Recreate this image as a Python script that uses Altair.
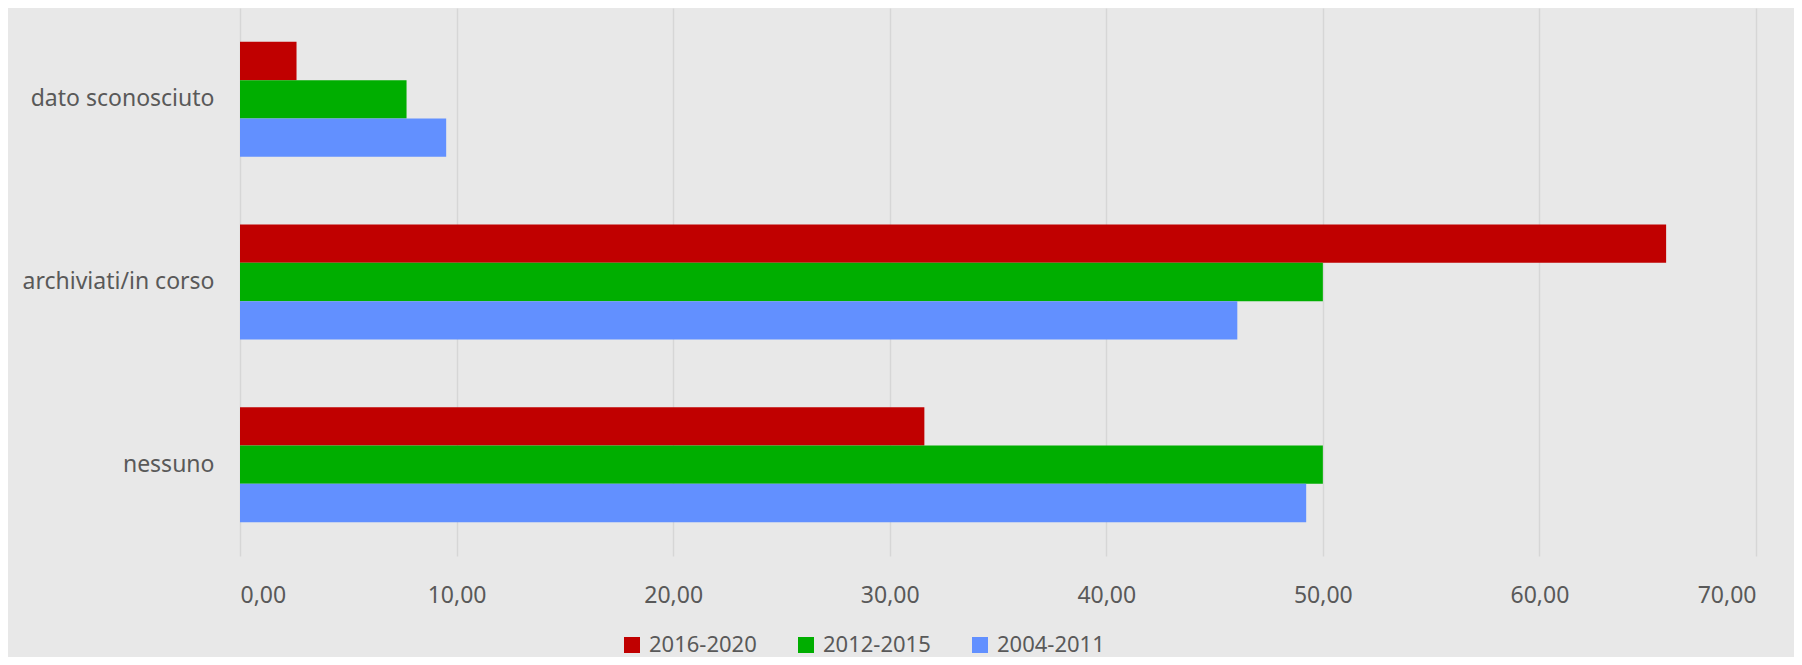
import altair as alt
import pandas as pd

categories = ["dato sconosciuto", "archiviati/in corso", "nessuno"]
periods = ["2016-2020", "2012-2015", "2004-2011"]
colors = ["#C00000", "#00AE00", "#6290FF"]
v_2016_2020 = [2.61, 65.85, 31.6]
v_2012_2015 = [7.69, 50.0, 50.0]
v_2004_2011 = [9.52, 46.05, 49.23]
x_ticks = [0, 10, 20, 30, 40, 50, 60, 70]

rows = []
for series, vals in zip(periods, [v_2016_2020, v_2012_2015, v_2004_2011]):
    for c, v in zip(categories, vals):
        rows.append({"categoria": c, "periodo": series, "valore": v})
df = pd.DataFrame(rows)

font = "Noto Sans"
gray = "#595959"

chart = alt.Chart(df).mark_bar().encode(
    x=alt.X("valore:Q",
            scale=alt.Scale(domain=[0, 70], nice=False),
            axis=alt.Axis(values=x_ticks, title=None, domain=False, ticks=False,
                          labelExpr="replace(format(datum.value, '.2f'), '.', ',')",
                          labelFontSize=23, labelColor=gray, labelFont=font,
                          labelPadding=28, gridColor="#D6D6D6", gridWidth=1.5)),
    y=alt.Y("categoria:N", sort=categories,
            scale=alt.Scale(paddingInner=0.37, paddingOuter=0.185),
            axis=alt.Axis(title=None, domain=False, ticks=False, grid=False,
                          labelFontSize=23, labelColor=gray, labelFont=font,
                          labelPadding=26, labelLimit=400)),
    yOffset=alt.YOffset("periodo:N", sort=periods, scale=alt.Scale(paddingInner=0, paddingOuter=0)),
    color=alt.Color("periodo:N", sort=periods,
                    scale=alt.Scale(domain=periods, range=colors),
                    legend=alt.Legend(title=None, orient="none", direction="horizontal",
                                      legendX=381, legendY=626,
                                      symbolType="square", symbolSize=256,
                                      symbolStrokeWidth=0, symbolOpacity=1,
                                      labelFontSize=22, labelColor=gray, labelFont=font,
                                      labelOffset=6, columnPadding=38, padding=0)),
).properties(
    width=1516,
    height=548,
    autosize=alt.AutoSizeParams(type="none"),
    padding={"left": 232, "top": 0, "right": 38, "bottom": 101},
    background="#E8E8E8",
).configure_view(stroke=None, fill="#E8E8E8")

chart.save("out.html", embed_options={"renderer": "svg", "actions": False})
